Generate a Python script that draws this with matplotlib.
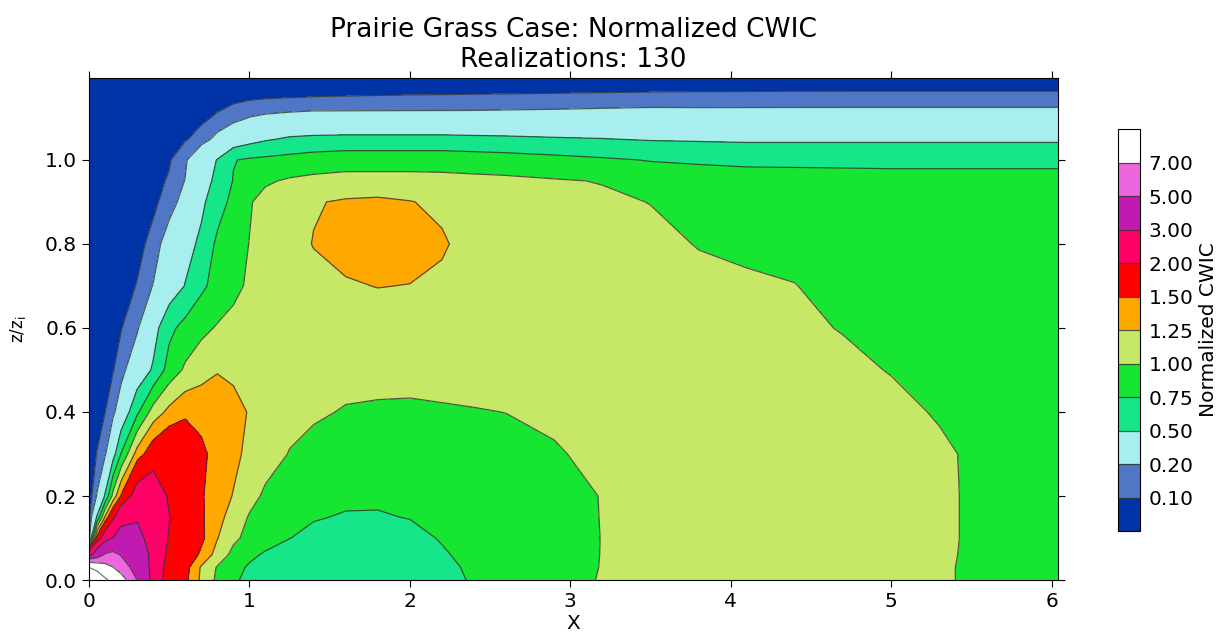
import numpy as np
import matplotlib
matplotlib.use("Agg")
import matplotlib.pyplot as plt

# grid positions (x and z/zi)
x = [0, 0.05, 0.1, 0.15, 0.2, 0.3, 0.4, 0.5, 0.6, 0.7, 0.8, 0.9, 1.0, 1.1, 1.25, 1.4, 1.6, 1.8,
     2.0, 2.2, 2.4, 2.6, 2.9, 3.2, 3.5, 3.8, 4.1, 4.4, 4.7, 5.0, 5.3, 5.5, 5.8, 6.05]
z = [0, 0.03, 0.06, 0.1, 0.15, 0.2, 0.3, 0.4, 0.5, 0.6, 0.7, 0.8, 0.9, 0.95, 1.0, 1.05, 1.1, 1.15, 1.2]

# normalized CWIC, one row per z level (estimated from the contour bands)
cwic = [
    [15, 13, 10.5, 9.2, 8.0, 5.0, 2.5, 1.65, 1.57, 1.2, 0.95, 0.78, 0.7, 0.64, 0.58, 0.54, 0.52, 0.52,
     0.56, 0.66, 0.78, 0.86, 0.94, 1.01, 1.03, 1.04, 1.04, 1.04, 1.04, 1.04, 1.03, 0.97, 0.93, 0.91],
    [10, 8.8, 7.8, 7.05, 6.0, 4.2, 2.6, 1.7, 1.6, 1.22, 0.98, 0.83, 0.72, 0.66, 0.6, 0.56, 0.54, 0.54,
     0.58, 0.68, 0.8, 0.87, 0.94, 1.005, 1.03, 1.04, 1.04, 1.04, 1.04, 1.04, 1.03, 0.97, 0.93, 0.91],
    [2.5, 3.8, 5.2, 5.5, 4.9, 3.8, 2.7, 1.8, 1.7, 1.45, 1.15, 0.93, 0.8, 0.72, 0.65, 0.61, 0.58, 0.58,
     0.62, 0.72, 0.83, 0.88, 0.95, 1.003, 1.03, 1.05, 1.05, 1.05, 1.05, 1.05, 1.04, 0.97, 0.93, 0.91],
    [0.09, 1.6, 2.4, 3.02, 3.5, 3.3, 2.6, 1.95, 1.75, 1.56, 1.26, 1.05, 0.93, 0.85, 0.755, 0.68, 0.64, 0.63,
     0.67, 0.77, 0.86, 0.9, 0.96, 1.002, 1.03, 1.05, 1.06, 1.06, 1.06, 1.06, 1.05, 0.97, 0.93, 0.91],
    [0.06, 0.52, 1.27, 1.85, 2.6, 2.9, 2.6, 2.02, 1.75, 1.54, 1.33, 1.15, 0.98, 0.9, 0.82, 0.77, 0.73, 0.73,
     0.76, 0.81, 0.86, 0.9, 0.96, 1.003, 1.03, 1.05, 1.06, 1.07, 1.07, 1.07, 1.05, 0.97, 0.93, 0.91],
    [0.04, 0.21, 0.52, 1.08, 1.52, 2.3, 2.45, 1.92, 1.7, 1.53, 1.35, 1.24, 1.08, 0.96, 0.88, 0.83, 0.8, 0.79,
     0.8, 0.82, 0.86, 0.9, 0.95, 1.005, 1.04, 1.06, 1.07, 1.08, 1.08, 1.08, 1.05, 0.97, 0.93, 0.91],
    [0.03, 0.105, 0.18, 0.4, 0.76, 1.35, 1.7, 1.85, 1.75, 1.55, 1.42, 1.3, 1.2, 1.1, 0.99, 0.93, 0.9, 0.89,
     0.89, 0.9, 0.92, 0.94, 0.985, 1.04, 1.07, 1.09, 1.1, 1.1, 1.1, 1.08, 1.04, 0.97, 0.93, 0.91],
    [0.02, 0.05, 0.098, 0.17, 0.3, 0.7, 1.1, 1.32, 1.45, 1.43, 1.35, 1.3, 1.24, 1.15, 1.07, 1.03, 0.985, 0.975,
     0.97, 0.98, 0.99, 1.002, 1.03, 1.07, 1.09, 1.1, 1.1, 1.1, 1.09, 1.06, 0.98, 0.95, 0.92, 0.9],
    [0.02, 0.035, 0.06, 0.095, 0.15, 0.33, 0.53, 0.85, 1.04, 1.15, 1.24, 1.22, 1.17, 1.13, 1.1, 1.08, 1.07, 1.06,
     1.06, 1.07, 1.08, 1.09, 1.1, 1.1, 1.1, 1.1, 1.09, 1.07, 1.05, 0.99, 0.92, 0.9, 0.9, 0.9],
    [0.02, 0.03, 0.045, 0.07, 0.095, 0.18, 0.4, 0.69, 0.83, 0.94, 1.02, 1.06, 1.08, 1.1, 1.12, 1.14, 1.15, 1.15,
     1.15, 1.14, 1.13, 1.12, 1.11, 1.1, 1.09, 1.08, 1.06, 1.04, 0.99, 0.93, 0.9, 0.9, 0.9, 0.9],
    [0.02, 0.025, 0.03, 0.04, 0.055, 0.105, 0.205, 0.35, 0.51, 0.7, 0.84, 0.95, 1.03, 1.07, 1.12, 1.17, 1.23, 1.255,
     1.245, 1.2, 1.16, 1.14, 1.12, 1.1, 1.08, 1.06, 1.03, 1.005, 0.93, 0.91, 0.9, 0.9, 0.9, 0.9],
    [0.02, 0.02, 0.03, 0.035, 0.04, 0.07, 0.13, 0.28, 0.41, 0.55, 0.8, 0.9, 1.005, 1.07, 1.15, 1.26, 1.32, 1.35,
     1.34, 1.28, 1.15, 1.12, 1.1, 1.08, 1.06, 0.99, 0.96, 0.94, 0.92, 0.91, 0.9, 0.9, 0.9, 0.9],
    [0.02, 0.02, 0.025, 0.03, 0.035, 0.05, 0.08, 0.14, 0.26, 0.45, 0.64, 0.82, 0.98, 1.08, 1.16, 1.23, 1.28, 1.3,
     1.26, 1.2, 1.15, 1.12, 1.08, 1.04, 0.995, 0.93, 0.91, 0.9, 0.9, 0.9, 0.9, 0.89, 0.88, 0.88],
    [0.02, 0.02, 0.025, 0.03, 0.035, 0.05, 0.07, 0.11, 0.205, 0.39, 0.56, 0.76, 0.87, 0.97, 1.03, 1.06, 1.08, 1.08,
     1.08, 1.07, 1.06, 1.05, 1.02, 0.99, 0.88, 0.86, 0.85, 0.84, 0.83, 0.82, 0.82, 0.82, 0.82, 0.82],
    [0.02, 0.02, 0.025, 0.03, 0.035, 0.045, 0.06, 0.09, 0.18, 0.35, 0.51, 0.74, 0.78, 0.8, 0.83, 0.87, 0.9, 0.9,
     0.9, 0.9, 0.88, 0.86, 0.82, 0.78, 0.74, 0.72, 0.7, 0.7, 0.7, 0.7, 0.7, 0.7, 0.7, 0.7],
    [0.02, 0.02, 0.02, 0.025, 0.03, 0.035, 0.05, 0.07, 0.09, 0.14, 0.24, 0.33, 0.41, 0.47, 0.53, 0.55, 0.56, 0.56,
     0.56, 0.56, 0.55, 0.54, 0.52, 0.505, 0.48, 0.47, 0.46, 0.46, 0.46, 0.46, 0.46, 0.46, 0.46, 0.46],
    [0.02, 0.02, 0.02, 0.02, 0.025, 0.03, 0.035, 0.045, 0.06, 0.08, 0.115, 0.16, 0.205, 0.225, 0.24, 0.25, 0.25, 0.25,
     0.25, 0.25, 0.25, 0.255, 0.26, 0.27, 0.28, 0.275, 0.275, 0.275, 0.275, 0.275, 0.275, 0.275, 0.275, 0.275],
    [0.02, 0.02, 0.02, 0.02, 0.02, 0.025, 0.03, 0.035, 0.04, 0.05, 0.06, 0.07, 0.08, 0.088, 0.095, 0.101, 0.103, 0.105,
     0.107, 0.108, 0.11, 0.111, 0.114, 0.117, 0.12, 0.122, 0.123, 0.124, 0.125, 0.125, 0.125, 0.125, 0.125, 0.125],
    [0.02] * 13 + [0.035] * 21,
]

levels = [0.0, 0.1, 0.2, 0.5, 0.75, 1.0, 1.25, 1.5, 2.0, 3.0, 5.0, 7.0, 20.0]
tick_levels = [0.1, 0.2, 0.5, 0.75, 1.0, 1.25, 1.5, 2.0, 3.0, 5.0, 7.0]
band_colors = ['#0034A6', '#4F77C6', '#A8EEEE', '#16E68A', '#16E632', '#C6E866',
               '#FFA800', '#FF0000', '#FF0066', '#C01AB0', '#EE66DD', '#FFFFFF']

fig = plt.figure(figsize=(12.24, 6.39), dpi=100)
ax = fig.add_axes([0.0727, 0.0923, 0.7917, 0.7856])
cax = fig.add_axes([0.9134, 0.169, 0.018, 0.629])

cs = ax.contourf(x, z, cwic, levels=levels, colors=band_colors)
lines = ax.contour(x, z, cwic, levels=tick_levels, colors='#333333', linewidths=0.9, alpha=0.8)
ax.contour(x, z, cwic, levels=[10], colors='#777777', linewidths=0.9)

ax.set_xlim(0, 6.04)
ax.set_ylim(0, 1.195)
ax.set_xticks(range(7))
ax.set_yticks([0.0, 0.2, 0.4, 0.6, 0.8, 1.0])
ax.set_yticklabels(['0.0', '0.2', '0.4', '0.6', '0.8', '1.0'])
ax.tick_params(direction='out', top=True, right=True, length=5, labelsize=14.5)
ax.set_title('Prairie Grass Case: Normalized CWIC\nRealizations: 130', fontsize=19, pad=8)
ax.set_xlabel('X', fontsize=14.5, labelpad=2)
ax.set_ylabel('z/z$_\\mathrm{i}$', fontsize=12, labelpad=12)

cb = fig.colorbar(cs, cax=cax, ticks=tick_levels, format='%.2f')
cb.add_lines(lines)
cb.ax.tick_params(length=0, labelsize=14.5, pad=6)
cb.set_label('Normalized CWIC', fontsize=14.5)

fig.savefig('out.png', dpi=100)
